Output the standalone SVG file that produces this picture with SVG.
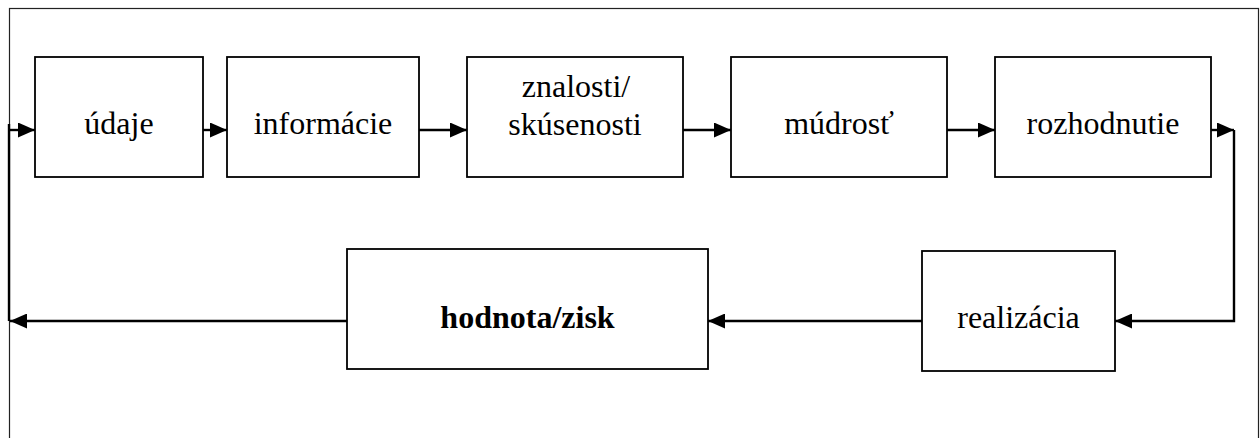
<svg xmlns="http://www.w3.org/2000/svg" width="1260" height="438" viewBox="0 0 1260 438">
  <style>
    .box { fill: #ffffff; stroke: #000000; stroke-width: 1.8; }
    .label { font-family: "Liberation Serif", "Times New Roman", serif; font-size: 32px; fill: #000000; text-anchor: middle; }
    .bold { font-weight: bold; }
    .wire { fill: none; stroke: #000000; stroke-width: 2.4; }
    .frame { fill: none; stroke: #222222; stroke-width: 1.2; }
  </style>
  <defs>
    <marker id="arrow" markerUnits="userSpaceOnUse" markerWidth="17" markerHeight="15" refX="17" refY="7.5" orient="auto">
      <path d="M0,0 L17,7.5 L0,15 Z" fill="#000000"/>
    </marker>
  </defs>

  <rect width="1260" height="438" fill="#ffffff"/>
  <!-- outer frame -->
  <rect class="frame" x="9.5" y="8.5" width="1249" height="440"/>

  <!-- connectors -->
  <g id="connectors">
    <path class="wire" d="M9,130 L35,130" marker-end="url(#arrow)"/>
    <path class="wire" d="M203,130 L227,130" marker-end="url(#arrow)"/>
    <path class="wire" d="M419,130 L467,130" marker-end="url(#arrow)"/>
    <path class="wire" d="M683,130 L731,130" marker-end="url(#arrow)"/>
    <path class="wire" d="M947,130 L995,130" marker-end="url(#arrow)"/>
    <path class="wire" d="M1211,130 L1234,130" marker-end="url(#arrow)"/>
    <path class="wire" d="M1234,130 L1234,321 L1115,321" marker-end="url(#arrow)"/>
    <path class="wire" d="M922,321 L708,321" marker-end="url(#arrow)"/>
    <path class="wire" d="M347,321 L10,321" marker-end="url(#arrow)"/>
    <path class="wire" d="M9,321 L9,124"/>
  </g>

  <!-- nodes -->
  <g id="node-udaje">
    <rect class="box" x="35" y="57" width="168" height="120"/>
    <text class="label" x="119" y="134">údaje</text>
  </g>
  <g id="node-informacie">
    <rect class="box" x="227" y="57" width="192" height="120"/>
    <text class="label" x="323" y="134">informácie</text>
  </g>
  <g id="node-znalosti">
    <rect class="box" x="467" y="57" width="216" height="120"/>
    <text class="label" x="576" y="97">znalosti/</text>
    <text class="label" x="575" y="135">skúsenosti</text>
  </g>
  <g id="node-mudrost">
    <rect class="box" x="731" y="57" width="216" height="120"/>
    <text class="label" x="839" y="134">múdrosť</text>
  </g>
  <g id="node-rozhodnutie">
    <rect class="box" x="995" y="57" width="216" height="120"/>
    <text class="label" x="1103" y="134">rozhodnutie</text>
  </g>
  <g id="node-realizacia">
    <rect class="box" x="922" y="251" width="193" height="120"/>
    <text class="label" x="1018.5" y="328">realizácia</text>
  </g>
  <g id="node-hodnota">
    <rect class="box" x="347" y="249" width="361" height="120"/>
    <text class="label bold" x="527.5" y="328">hodnota/zisk</text>
  </g>
</svg>
